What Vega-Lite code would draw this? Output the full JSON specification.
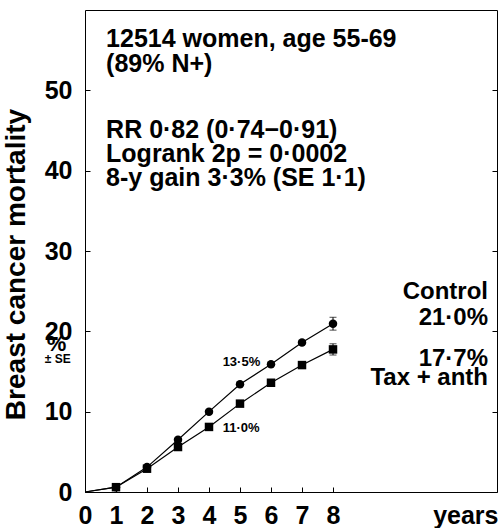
{
  "$schema": "https://vega.github.io/schema/vega-lite/v6.json",
  "width": 412,
  "height": 482,
  "autosize": "none",
  "padding": {"left": 85, "top": 10, "right": 3, "bottom": 36},
  "background": "white",
  "config": {
    "view": {"stroke": "black", "strokeWidth": 1},
    "font": "Liberation Sans",
    "axis": {"domain": false, "grid": false, "tickColor": "black", "tickWidth": 1, "labelFont": "Liberation Sans", "labelFontWeight": "bold", "labelColor": "black", "titleColor": "black", "titleFont": "Liberation Sans"}
  },
  "datasets": {
    "curves": [
      {"group": "Control", "x": 0, "y": 0},
      {"group": "Control", "x": 1, "y": 0.6},
      {"group": "Control", "x": 2, "y": 3.1},
      {"group": "Control", "x": 3, "y": 6.5},
      {"group": "Control", "x": 4, "y": 10.0},
      {"group": "Control", "x": 5, "y": 13.4},
      {"group": "Control", "x": 6, "y": 15.9},
      {"group": "Control", "x": 7, "y": 18.6},
      {"group": "Control", "x": 8, "y": 20.95},
      {"group": "Tax + anth", "x": 0, "y": 0},
      {"group": "Tax + anth", "x": 1, "y": 0.6},
      {"group": "Tax + anth", "x": 2, "y": 2.9},
      {"group": "Tax + anth", "x": 3, "y": 5.6},
      {"group": "Tax + anth", "x": 4, "y": 8.1},
      {"group": "Tax + anth", "x": 5, "y": 11.0},
      {"group": "Tax + anth", "x": 6, "y": 13.6},
      {"group": "Tax + anth", "x": 7, "y": 15.8},
      {"group": "Tax + anth", "x": 8, "y": 17.75}
    ],
    "err": [
      {"group": "Control", "x": 8, "y": 20.15, "y2": 21.75},
      {"group": "Tax + anth", "x": 8, "y": 17.05, "y2": 18.45}
    ],
    "notes": [
      {"kind": "tl", "x": 0.68, "y": 55.43, "text": "12514 women, age 55-69"},
      {"kind": "tl", "x": 0.68, "y": 52.28, "text": "(89% N+)"},
      {"kind": "tl", "x": 0.68, "y": 44.07, "text": "RR 0·82 (0·74−0·91)"},
      {"kind": "tl", "x": 0.68, "y": 41.08, "text": "Logrank 2p = 0·0002"},
      {"kind": "tl", "x": 0.68, "y": 38.09, "text": "8-y gain 3·3% (SE 1·1)"},
      {"kind": "tr", "x": 13.0, "y": 23.98, "text": "Control"},
      {"kind": "tr", "x": 13.0, "y": 20.79, "text": "21·0%"},
      {"kind": "tr", "x": 13.0, "y": 15.69, "text": "17·7%"},
      {"kind": "tr", "x": 13.0, "y": 13.32, "text": "Tax + anth"},
      {"kind": "pct", "x": 4.44, "y": 15.72, "text": "13·5%"},
      {"kind": "pct", "x": 4.44, "y": 7.51, "text": "11·0%"},
      {"kind": "unit", "x": -0.915, "y": 17.55, "text": "%"},
      {"kind": "se", "x": -0.88, "y": 16.05, "text": "± SE"}
    ]
  },
  "resolve": {"axis": {"y": "independent"}},
  "layer": [
    {
      "data": {"name": "curves"},
      "mark": {"type": "line", "color": "black", "strokeWidth": 1.2},
      "encoding": {
        "x": {"field": "x", "type": "quantitative", "scale": {"domain": [0, 13.29], "nice": false, "zero": false},
          "axis": {"values": [0, 1, 2, 3, 4, 5, 6, 7, 8], "tickSize": -5, "labelFontSize": 25, "labelBaseline": "alphabetic", "labelPadding": 36, "labelFlush": false, "labelOverlap": false,
            "title": "years", "titleFontSize": 25, "titleFontWeight": "bold", "titleAnchor": "end", "titleAlign": "right", "titleBaseline": "alphabetic", "titleX": 413, "titleY": 31}},
        "y": {"field": "y", "type": "quantitative", "scale": {"domain": [0, 60], "nice": false},
          "axis": {"values": [0, 10, 20, 30, 40, 50], "tickSize": -5, "labelFontSize": 25, "labelPadding": 18,
            "title": "Breast cancer mortality", "titleFontSize": 28, "titleFontWeight": "bold", "titleAngle": -90, "titleBaseline": "alphabetic", "titleAlign": "center", "titleX": -61, "titleY": 254}},
        "detail": {"field": "group"}
      }
    },
    {
      "data": {"name": "curves"},
      "transform": [{"filter": "datum.x > 0"}],
      "mark": {"type": "point", "filled": true, "color": "black", "opacity": 1, "size": 72},
      "encoding": {
        "x": {"field": "x", "type": "quantitative"},
        "y": {"field": "y", "type": "quantitative", "axis": {"orient": "right", "values": [0, 10, 20, 30, 40, 50], "tickSize": -5, "labels": false, "title": null}},
        "shape": {"field": "group", "type": "nominal", "scale": {"domain": ["Control", "Tax + anth"], "range": ["circle", "square"]}, "legend": null}
      }
    },
    {
      "data": {"name": "err"},
      "mark": {"type": "rule", "color": "black", "strokeWidth": 1},
      "encoding": {
        "x": {"field": "x", "type": "quantitative"},
        "y": {"field": "y", "type": "quantitative", "axis": null},
        "y2": {"field": "y2"}
      }
    },
    {
      "data": {"name": "err"},
      "mark": {"type": "tick", "color": "black", "orient": "horizontal", "size": 7, "thickness": 1},
      "encoding": {
        "x": {"field": "x", "type": "quantitative"},
        "y": {"field": "y", "type": "quantitative", "axis": null}
      }
    },
    {
      "data": {"name": "err"},
      "mark": {"type": "tick", "color": "black", "orient": "horizontal", "size": 7, "thickness": 1},
      "encoding": {
        "x": {"field": "x", "type": "quantitative"},
        "y": {"field": "y2", "type": "quantitative", "axis": null}
      }
    },
    {
      "data": {"name": "notes"},
      "transform": [{"filter": "datum.kind == 'tl'"}],
      "mark": {"type": "text", "align": "left", "baseline": "alphabetic", "font": "Liberation Sans", "fontWeight": 700, "fontSize": 25, "color": "black"},
      "encoding": {
        "x": {"field": "x", "type": "quantitative"},
        "y": {"field": "y", "type": "quantitative", "axis": null},
        "text": {"field": "text"}
      }
    },
    {
      "data": {"name": "notes"},
      "transform": [{"filter": "datum.kind == 'tr'"}],
      "mark": {"type": "text", "align": "right", "baseline": "alphabetic", "font": "Liberation Sans", "fontWeight": 700, "fontSize": 24, "color": "black"},
      "encoding": {
        "x": {"field": "x", "type": "quantitative"},
        "y": {"field": "y", "type": "quantitative", "axis": null},
        "text": {"field": "text"}
      }
    },
    {
      "data": {"name": "notes"},
      "transform": [{"filter": "datum.kind == 'pct'"}],
      "mark": {"type": "text", "align": "left", "baseline": "alphabetic", "font": "Liberation Sans", "fontWeight": 700, "fontSize": 13, "color": "black"},
      "encoding": {
        "x": {"field": "x", "type": "quantitative"},
        "y": {"field": "y", "type": "quantitative", "axis": null},
        "text": {"field": "text"}
      }
    },
    {
      "data": {"name": "notes"},
      "transform": [{"filter": "datum.kind == 'unit'"}],
      "mark": {"type": "text", "align": "center", "baseline": "alphabetic", "font": "Liberation Sans", "fontWeight": 700, "fontSize": 22, "color": "black"},
      "encoding": {
        "x": {"field": "x", "type": "quantitative"},
        "y": {"field": "y", "type": "quantitative", "axis": null},
        "text": {"field": "text"}
      }
    },
    {
      "data": {"name": "notes"},
      "transform": [{"filter": "datum.kind == 'se'"}],
      "mark": {"type": "text", "align": "center", "baseline": "alphabetic", "font": "Liberation Sans", "fontWeight": 700, "fontSize": 12, "color": "black"},
      "encoding": {
        "x": {"field": "x", "type": "quantitative"},
        "y": {"field": "y", "type": "quantitative", "axis": null},
        "text": {"field": "text"}
      }
    }
  ]
}
